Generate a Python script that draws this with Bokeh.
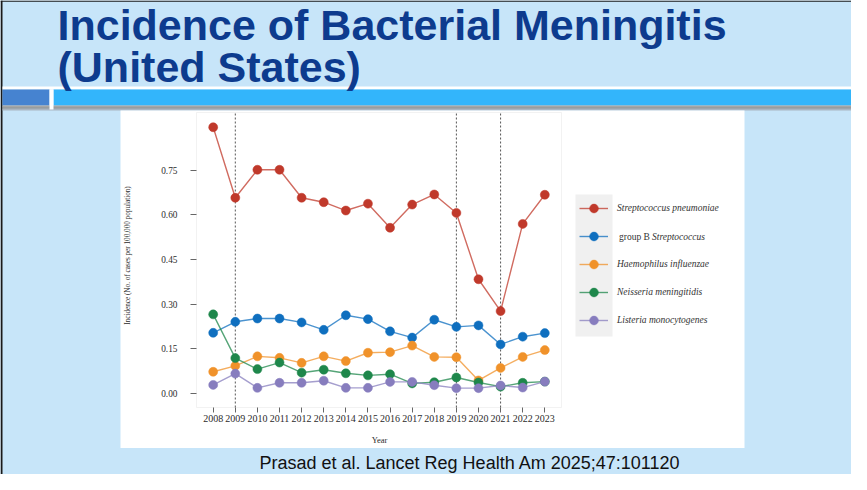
from math import pi
from bokeh.plotting import figure
from bokeh.models import (BoxAnnotation, Label, Legend, LegendItem, Range1d,
                          FixedTicker, NumeralTickFormatter, LinearAxis)
from bokeh.embed import file_html
from bokeh.resources import INLINE

# ---------------- data ----------------
years = list(range(2008, 2024))
s_pneumoniae = [0.895, 0.658, 0.752, 0.752, 0.658, 0.643, 0.615, 0.638,
                0.557, 0.635, 0.669, 0.607, 0.384, 0.277, 0.570, 0.668]
group_b_strep = [0.204, 0.241, 0.252, 0.252, 0.239, 0.214, 0.263, 0.250,
                 0.209, 0.188, 0.248, 0.224, 0.229, 0.165, 0.191, 0.203]
h_influenzae = [0.073, 0.093, 0.125, 0.120, 0.103, 0.125, 0.109, 0.137,
                0.139, 0.161, 0.123, 0.122, 0.044, 0.086, 0.123, 0.146]
n_meningitidis = [0.266, 0.119, 0.082, 0.104, 0.070, 0.080, 0.068, 0.061,
                  0.065, 0.034, 0.038, 0.054, 0.037, 0.023, 0.036, 0.040]
l_monocytogenes = [0.029, 0.067, 0.019, 0.036, 0.036, 0.043, 0.019, 0.019,
                   0.039, 0.039, 0.028, 0.018, 0.018, 0.027, 0.020, 0.040]
series_names = ["Streptococcus pneumoniae", "group B Streptococcus",
                "Haemophilus influenzae", "Neisseria meningitidis",
                "Listeria monocytogenes"]
y_ticks = [0.0, 0.15, 0.30, 0.45, 0.60, 0.75]
marked_years = [2009, 2019, 2021]

title_lines = ["Incidence of Bacterial Meningitis", "(United States)"]
citation = "Prasad et al. Lancet Reg Health Am 2025;47:101120"
x_label = "Year"
y_label = "Incidence (No. of cases per 100,000 population)"

# ---------------- styles / layout ----------------
colors = ["#c0392b", "#0f6fbf", "#f0922a", "#1e874b", "#877dbe"]
LIGHT_BLUE = "#c7e5f9"
TITLE_BLUE = "#0d3b8e"
SERIF = "Liberation Serif"
SANS = "Liberation Sans"

W, H = 851, 474
OFF = 8                              # page margin (reference px -> canvas px)
FL, FR, FT, FB = 204, 569, 120, 415  # chart frame in reference pixels
XMIN, XMAX = 2007.245, 2023.755
YMIN, YMAX = -0.047, 0.9445
MID = 0.3465                         # baseline sits this many em below a "middle" anchor


def dx(px):
    return XMIN + (px - FL) * (XMAX - XMIN) / (FR - FL)


def dy(py):
    return YMAX - (py - FT) * (YMAX - YMIN) / (FB - FT)


# the whole canvas is the frame; the chart's scales are set so that its
# plotting area lands where the reference shows it
p = figure(width=W, height=H, output_backend="svg", toolbar_location=None,
           x_range=Range1d(dx(OFF), dx(OFF + W)), y_range=Range1d(dy(OFF + H), dy(OFF)),
           x_axis_location=None, y_axis_location=None,
           min_border=0)
p.title.visible = False
p.border_fill_color = LIGHT_BLUE
p.background_fill_color = LIGHT_BLUE
p.outline_line_color = None
p.grid.visible = False


def box(l, t, r, b, color, level="underlay"):
    p.add_layout(BoxAnnotation(left=dx(l), right=dx(r), top=dy(t), bottom=dy(b),
                               fill_color=color, fill_alpha=1.0, line_color=None,
                               level=level))


# slide decoration
box(8, 8, 870, 9.2, "#1a1a1a")
box(8, 8, 10, 495, "#1a1a1a")
box(10, 94, 870, 97, "white")
box(10, 97, 57, 113, "#4683d0")
box(61, 97, 870, 113, "#33b5fb")
box(10, 113, 870, 114.7, "#a6a6a6")
box(10, 114.7, 870, 116.3, "#8a8a8a")
box(10, 116.3, 870, 118, "#aab5c1")
box(57, 97, 61, 117, "white")
box(128, 118, 752, 455.5, "white")
box(583, 202, 620, 344, "#f0f0f0")
# chart frame outline
p.add_layout(BoxAnnotation(left=XMIN, right=XMAX, top=YMAX, bottom=YMIN,
                           fill_alpha=0, line_color="#d4d4d4", line_width=1,
                           level="underlay"))

# dotted reference lines
p.segment(x0=marked_years, x1=marked_years, y0=[YMIN] * len(marked_years),
          y1=[YMAX] * len(marked_years), line_color="#555555", line_width=1,
          line_dash="2 2")

# series
all_series = [s_pneumoniae, group_b_strep, h_influenzae, n_meningitidis, l_monocytogenes]
items = []
for name, vals, col in zip(series_names, all_series, colors):
    lr = p.line(years, vals, line_color=col, line_alpha=0.75, line_width=1.4)
    sr = p.scatter(years, vals, size=9, fill_color=col, line_color=col, line_width=0.5)
    label = " " if name.startswith("group B") else name
    items.append(LegendItem(label=label, renderers=[lr, sr]))

legend = Legend(items=items, location=(587 - OFF, (OFF + H) - 339),
                glyph_width=29, glyph_height=22, label_height=22, label_standoff=9,
                spacing=6, padding=0, margin=0, border_line_color=None,
                background_fill_alpha=0,
                label_text_font=SERIF, label_text_font_style="italic",
                label_text_font_size="9.5px", label_text_color="#333333")
p.add_layout(legend)

p.add_layout(Label(x=dx(626.5), y=dy(244), text="group B", text_font=SERIF,
                   text_font_size="9.5px", text_color="#333333", text_baseline="middle"))
p.add_layout(Label(x=dx(659.5), y=dy(244), text="Streptococcus", text_font=SERIF,
                   text_font_style="italic", text_font_size="9.5px",
                   text_color="#333333", text_baseline="middle"))

# axes, fixed at the chart frame's edges
xaxis = LinearAxis(fixed_location=YMIN, ticker=FixedTicker(ticks=years))
yaxis = LinearAxis(fixed_location=XMIN, ticker=FixedTicker(ticks=y_ticks),
                   formatter=NumeralTickFormatter(format="0.00"))
for ax in (xaxis, yaxis):
    ax.axis_line_color = None
    ax.minor_tick_line_color = None
    ax.major_tick_in = 0
    ax.major_tick_line_color = "#666666"
    ax.major_label_text_font = SERIF
    ax.major_label_text_color = "#2b2b2b"
xaxis.major_tick_out = 5
xaxis.major_label_standoff = 2
xaxis.major_label_text_font_size = "10px"
yaxis.major_tick_out = 6
yaxis.major_label_standoff = 13
yaxis.major_label_text_font_size = "9.3px"
p.add_layout(xaxis, "below")
p.add_layout(yaxis, "left")

p.add_layout(Label(x=dx(387), y=dy(447), text=x_label, text_font=SERIF,
                   text_font_size="8.5px", text_color="#2b2b2b",
                   text_align="center", text_baseline="middle"))
p.add_layout(Label(x=dx(135), y=dy(263), text=y_label, text_font=SERIF,
                   text_font_size="7.2px", text_color="#2b2b2b", angle=pi / 2,
                   text_align="center", text_baseline="middle"))

# slide texts (anchored by their middle; baselines at 47.3, 89 and 477 px)
p.add_layout(Label(x=dx(65), y=dy(47.3 - MID * 43), text=title_lines[0], text_font=SANS,
                   text_font_style="bold", text_font_size="43px", text_color=TITLE_BLUE,
                   text_baseline="middle"))
p.add_layout(Label(x=dx(65), y=dy(89 - MID * 43), text=title_lines[1], text_font=SANS,
                   text_font_style="bold", text_font_size="43px", text_color=TITLE_BLUE,
                   text_baseline="middle"))
p.add_layout(Label(x=dx(267), y=dy(477 - MID * 18), text=citation, text_font=SANS,
                   text_font_size="18px", text_color="#111111",
                   text_baseline="middle"))

open("out.html", "w").write(file_html(p, INLINE))
